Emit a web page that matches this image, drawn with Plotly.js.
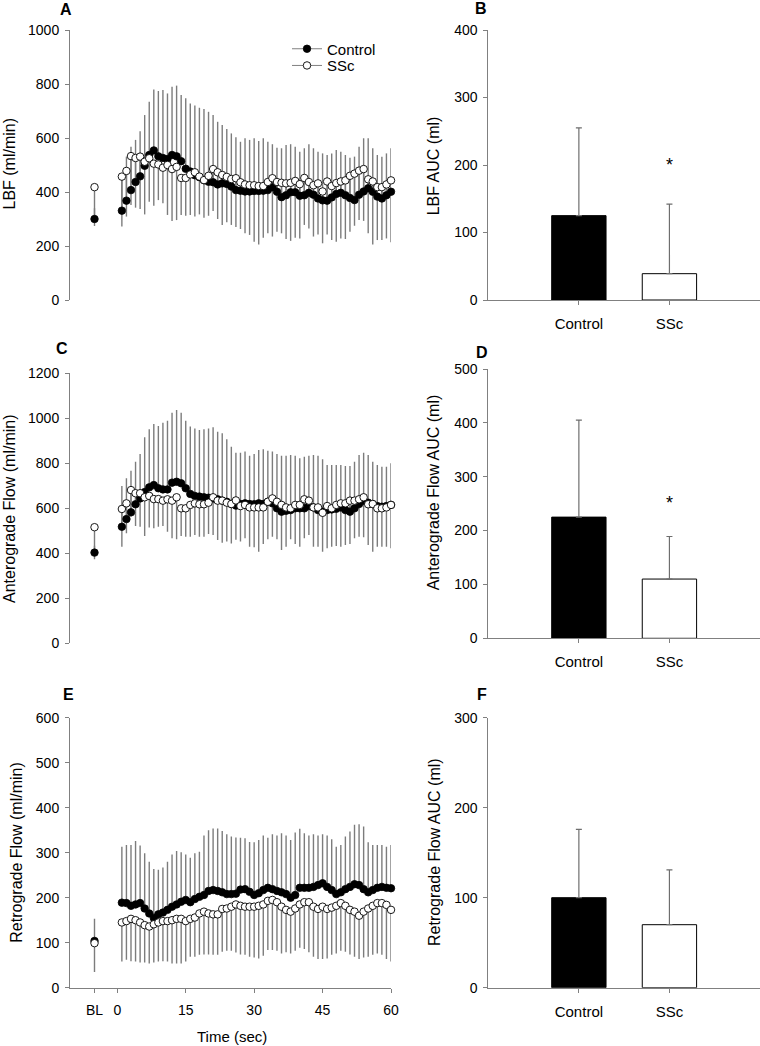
<!DOCTYPE html>
<html>
<head>
<meta charset="utf-8">
<script src="https://cdn.plot.ly/plotly-3.0.1.min.js"></script>
<style>html,body{margin:0;padding:0;background:#fff;}#chart{width:760px;height:1046px;}</style>
</head>
<body>
<div id="chart"></div>
<script>
// ---------------- DATA ----------------
const timeSec = [1,2,3,4,5,6,7,8,9,10,11,12,13,14,15,16,17,18,19,20,21,22,23,24,25,26,27,28,29,30,
                 31,32,33,34,35,36,37,38,39,40,41,42,43,44,45,46,47,48,49,50,51,52,53,54,55,56,57,58,59,60];
const timeTickVals = [-5, 0, 15, 30, 45, 60];
const timeTickText = ['BL', '0', '15', '30', '45', '60'];
const groups = ['Control', 'SSc'];

// Panel A: leg blood flow (ml/min)
const lbfBL = [300, 418];          // Control, SSc baseline
const lbfBLsd = [40, 144];
const lbfCtrl = [331,368,407,437,458,497,537,554,532,526,522,537,532,514,486,476,462,455,444,438,
                 436,428,432,430,420,407,405,402,402,404,404,405,407,418,401,381,388,399,399,386,
                 388,397,390,376,369,368,380,393,397,388,378,370,390,402,414,401,383,376,388,401];
const lbfCtrlSD = [139,163,161,156,167,188,197,226,242,252,243,253,262,245,261,252,258,257,263,259,
                   249,232,216,203,197,196,181,197,191,195,185,194,179,159,163,181,186,178,169,163,
                   174,180,172,173,174,169,163,163,152,149,149,161,178,197,185,161,154,155,155,161];
const lbfSSc = [457,478,533,526,531,512,525,505,502,490,500,485,493,452,452,465,473,457,444,460,
                485,473,463,456,448,451,436,428,425,425,422,422,437,451,437,434,432,434,441,429,
                452,437,425,432,402,439,422,433,439,443,460,468,479,485,447,439,418,418,428,443];
const lbfSScSD = [185,169,181,184,194,195,161,156,132,132,185,192,197,137,140,150,164,140,139,148,
                  155,173,185,168,170,181,173,181,184,209,216,191,190,216,184,187,206,215,210,201,
                  174,172,190,189,192,196,200,217,211,217,207,193,183,192,200,233,196,196,200,229];

// Panel C: anterograde flow (ml/min)
const antBL = [403, 516];
const antBLsd = [30, 143];
const antCtrl = [518,552,582,618,644,672,693,703,689,684,684,714,718,711,689,664,655,652,649,647,
                 644,640,634,629,619,612,619,622,619,618,622,619,629,622,600,585,589,592,600,600,
                 600,610,604,592,585,592,595,598,604,592,585,600,619,634,625,619,610,607,610,615];
const antCtrlSD = [181,181,185,189,197,244,258,272,277,296,305,311,319,314,300,299,300,296,302,308,
                   316,300,299,278,255,235,228,230,214,223,237,243,227,230,241,248,244,245,233,222,
                   229,223,233,241,233,200,197,194,188,196,203,207,218,213,212,188,182,178,175,185];
const antSSc = [597,622,681,667,667,649,655,641,641,634,640,634,649,600,600,615,622,618,618,625,
                649,634,634,625,619,635,610,615,604,604,604,604,629,644,629,615,604,600,615,615,
                640,634,604,604,580,610,600,615,622,622,634,634,640,649,618,619,600,600,604,615];
const antSScSD = [168,133,118,146,149,172,140,130,123,113,144,167,187,123,126,141,141,144,144,139,
                  168,175,187,173,175,175,158,148,175,177,197,163,167,170,167,200,175,138,174,186,
                  173,153,175,175,173,188,171,183,193,185,193,167,166,178,181,212,171,171,175,193];

// Panel E: retrograde flow (ml/min)
const retBL = [104, 99];
const retBLsd = [49, 64];
const retCtrl = [189,188,182,185,188,176,165,155,163,167,173,180,185,191,195,190,197,202,206,215,
                 217,215,212,208,208,209,218,219,213,206,210,217,222,219,215,212,208,200,206,222,
                 222,222,224,228,232,224,217,208,212,219,224,230,228,219,212,217,222,224,222,221];
const retCtrlSD = [124,129,135,141,128,123,115,109,99,100,107,116,119,110,101,99,102,100,132,135,
                   137,139,136,133,128,125,115,113,111,117,118,121,111,122,123,131,130,128,139,131,
                   121,116,117,110,109,114,113,105,105,117,123,132,135,139,111,100,95,93,91,96];
const retSSc = [145,148,153,150,145,139,136,141,145,148,148,150,153,153,148,153,156,165,169,165,
                163,163,175,176,180,185,182,180,180,180,182,185,193,195,190,180,173,169,176,185,
                190,190,180,175,180,175,178,182,188,182,173,169,160,169,176,182,188,188,184,173];
const retSScSD = [87,86,94,92,89,83,82,85,87,89,90,96,99,99,90,84,87,92,95,91,
                  90,90,95,94,98,107,108,107,111,113,117,114,109,111,108,104,94,93,94,96,
                  104,111,111,111,116,110,105,106,106,102,99,100,96,102,107,109,112,115,120,115];

// AUC bar panels (ml): [Control, SSc]
const lbfAUC = [125, 39];
const lbfAUCsd = [130, 103];
const antAUC = [225, 110];
const antAUCsd = [180, 79];
const retAUC = [100, 70];
const retAUCsd = [76, 61];

// ---------------- STYLE / LAYOUT HELPERS ----------------
const W = 760, H = 1046;
const FONT = 'Liberation Sans, Arial, Helvetica, sans-serif';
const GREY = '#808080';
const ERR = '#7c7c7c';
const BL_X = -5;
const px = v => v / W;
const py = v => 1 - v / H;

const traces = [];

function timePanel(xa, ya, blMeans, blSD, ctrl, ctrlSD, ssc, sscSD, legend) {
  const xs = [BL_X, null].concat(timeSec);
  const yc = [blMeans[0], null].concat(ctrl);
  const ys = [blMeans[1], null].concat(ssc);
  const ec = [blSD[0], null].concat(ctrlSD);
  const es = [blSD[1], null].concat(sscSD);
  const zeros = xs.map(() => 0);
  // error bars first (Control up, SSc down)
  traces.push({type: 'scatter', mode: 'markers', x: xs, y: yc, xaxis: xa, yaxis: ya,
    marker: {size: 2, opacity: 0}, showlegend: false, hoverinfo: 'skip', cliponaxis: false,
    error_y: {type: 'data', symmetric: false, array: ec, arrayminus: zeros, color: ERR, thickness: 1.4, width: 0}});
  traces.push({type: 'scatter', mode: 'markers', x: xs, y: ys, xaxis: xa, yaxis: ya,
    marker: {size: 2, opacity: 0}, showlegend: false, hoverinfo: 'skip', cliponaxis: false,
    error_y: {type: 'data', symmetric: false, array: zeros, arrayminus: es, color: ERR, thickness: 1.4, width: 0}});
  // markers
  traces.push({type: 'scatter', mode: 'markers', x: xs, y: yc, xaxis: xa, yaxis: ya, name: 'Control',
    marker: {size: 7.5, color: '#000', line: {color: '#000', width: 0.8}}, showlegend: false, cliponaxis: false});
  traces.push({type: 'scatter', mode: 'markers', x: xs, y: ys, xaxis: xa, yaxis: ya, name: 'SSc',
    marker: {size: 7.5, color: '#fff', line: {color: '#000', width: 0.9}}, showlegend: false, cliponaxis: false});
  if (legend) {
    traces.push({type: 'scatter', mode: 'lines+markers', x: [null], y: [null], xaxis: xa, yaxis: ya,
      name: 'Control', legend: 'legend', showlegend: true,
      line: {color: GREY, width: 1}, marker: {size: 7.5, color: '#000', line: {color: '#000', width: 0.8}}});
    traces.push({type: 'scatter', mode: 'lines+markers', x: [null], y: [null], xaxis: xa, yaxis: ya,
      name: 'SSc', legend: 'legend2', showlegend: true,
      line: {color: GREY, width: 1}, marker: {size: 7.5, color: '#fff', line: {color: '#000', width: 0.9}}});
  }
}

function barPanel(xa, ya, vals, sds) {
  traces.push({type: 'bar', x: groups, y: vals, xaxis: xa, yaxis: ya, width: 0.6,
    marker: {color: ['#000', '#fff'], line: {color: '#000', width: 1}}, showlegend: false,
    error_y: {type: 'data', symmetric: false, array: sds, arrayminus: [0, 0], color: '#6e6e6e', thickness: 1.2, width: 3}});
}

timePanel('x', 'y', lbfBL, lbfBLsd, lbfCtrl, lbfCtrlSD, lbfSSc, lbfSScSD, true);
barPanel('x2', 'y2', lbfAUC, lbfAUCsd);
timePanel('x3', 'y3', antBL, antBLsd, antCtrl, antCtrlSD, antSSc, antSScSD, false);
barPanel('x4', 'y4', antAUC, antAUCsd);
timePanel('x5', 'y5', retBL, retBLsd, retCtrl, retCtrlSD, retSSc, retSScSD, false);
barPanel('x6', 'y6', retAUC, retAUCsd);

const leftX = [px(70), px(391)];
const rightX = [px(488.3), 1];

function yAxis(anchor, domain, range, dtick) {
  return {anchor: anchor, domain: domain, range: range, dtick: dtick, tick0: 0,
    showline: true, linecolor: GREY, linewidth: 1, ticks: 'outside', ticklen: 4, tickwidth: 1, tickcolor: GREY,
    showgrid: false, zeroline: false, tickfont: {family: FONT, size: 14, color: '#000'},
    ticklabelstandoff: 3, fixedrange: true};
}
function hiddenTimeX(anchor) {
  return {anchor: anchor, domain: leftX, range: [-10.37, 60], showline: false, showgrid: false,
    zeroline: false, ticks: '', showticklabels: false, fixedrange: true};
}
function barX(anchor) {
  return {anchor: anchor, domain: rightX, type: 'category', range: [-1, 2], showline: true, linecolor: GREY,
    linewidth: 1, ticks: 'outside', ticklen: 4, tickcolor: GREY, showgrid: false, zeroline: false,
    tickfont: {family: FONT, size: 15, color: '#000'}, ticklabelstandoff: 6, fixedrange: true};
}

const dA = [py(300), py(30)];
const dC = [py(643.3), py(373.3)];
const dE = [py(987.7), py(717.7)];
const dD = [py(638.3), py(369)];

const ann = [];
function txt(x, y, t, size, bold, angle) {
  ann.push({xref: 'paper', yref: 'paper', x: px(x), y: py(y), text: bold ? '<b>' + t + '</b>' : t,
    showarrow: false, xanchor: 'center', yanchor: 'middle', textangle: angle || 0,
    font: {family: FONT, size: size, color: '#000'}});
}
// panel letters
txt(65.5, 9.5, 'A', 16, true);
txt(481, 8.5, 'B', 16, true);
txt(62, 348.5, 'C', 16, true);
txt(481.7, 352.5, 'D', 16, true);
txt(68, 694, 'E', 16, true);
txt(481.7, 694, 'F', 16, true);
// axis titles
txt(9, 163.5, 'LBF (ml/min)', 16, false, -90);
txt(9, 509, 'Anterograde Flow (ml/min)', 16, false, -90);
txt(15.7, 853, 'Retrograde Flow (ml/min)', 16, false, -90);
txt(433.3, 166, 'LBF AUC (ml)', 16, false, -90);
txt(433.3, 492, 'Anterograde Flow AUC (ml)', 16, false, -90);
txt(434.5, 852.5, 'Retrograde Flow AUC (ml)', 16, false, -90);
txt(231.7, 1036.5, 'Time (sec)', 15, false, 0);
// significance markers
ann.push({xref: 'x2', yref: 'y2', x: 'SSc', y: 200, text: '*', showarrow: false,
  font: {family: FONT, size: 18, color: '#000'}, xanchor: 'center', yanchor: 'middle'});
ann.push({xref: 'x4', yref: 'y4', x: 'SSc', y: 251, text: '*', showarrow: false,
  font: {family: FONT, size: 18, color: '#000'}, xanchor: 'center', yanchor: 'middle'});

const legendBase = {xanchor: 'left', yanchor: 'middle', bgcolor: 'rgba(0,0,0,0)', borderwidth: 0,
  font: {family: FONT, size: 15, color: '#000'}, itemclick: false, itemdoubleclick: false};

const layout = {
  width: W, height: H, autosize: false,
  margin: {l: 0, r: 0, t: 0, b: 0, pad: 0},
  paper_bgcolor: '#fff', plot_bgcolor: 'rgba(0,0,0,0)',
  font: {family: FONT, size: 14, color: '#000'},
  showlegend: true,
  legend: Object.assign({x: px(287), y: py(49)}, legendBase),
  legend2: Object.assign({x: px(287), y: py(65.7)}, legendBase),
  bargap: 0,
  xaxis: hiddenTimeX('y'),
  yaxis: yAxis('x', dA, [0, 1000], 200),
  xaxis2: barX('y2'),
  yaxis2: yAxis('x2', dA, [0, 400], 100),
  xaxis3: hiddenTimeX('y3'),
  yaxis3: yAxis('x3', dC, [0, 1200], 200),
  xaxis4: barX('y4'),
  yaxis4: yAxis('x4', dD, [0, 500], 100),
  xaxis5: {anchor: 'y5', domain: leftX, range: [-10.37, 60], showline: true, linecolor: GREY, linewidth: 1,
    ticks: 'outside', ticklen: 4, tickcolor: GREY, tickvals: timeTickVals, ticktext: timeTickText,
    showgrid: false, zeroline: false, tickfont: {family: FONT, size: 14, color: '#000'},
    ticklabelstandoff: 5, fixedrange: true},
  yaxis5: yAxis('x5', dE, [0, 600], 100),
  xaxis6: barX('y6'),
  yaxis6: yAxis('x6', dE, [0, 300], 100),
  annotations: ann,
  hovermode: false
};

Plotly.newPlot('chart', traces, layout, {staticPlot: true, displayModeBar: false});
</script>
</body>
</html>
